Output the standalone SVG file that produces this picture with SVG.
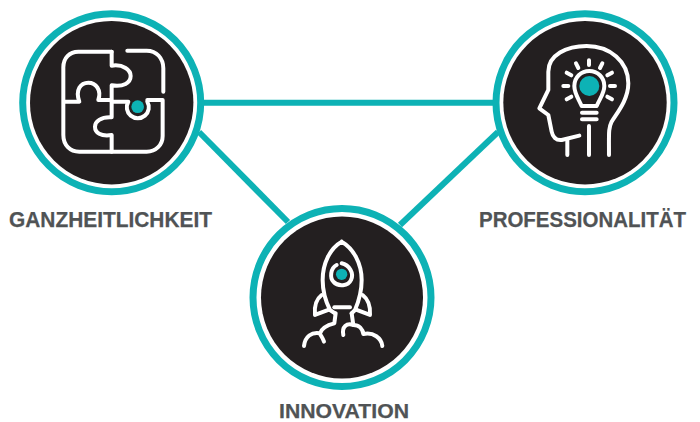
<svg xmlns="http://www.w3.org/2000/svg" width="700" height="422" viewBox="0 0 700 422">
<style>
.ring{fill:#fff;stroke:#0db2b5;stroke-width:7}
.ic{fill:none;stroke:#fff;stroke-width:12;stroke-linecap:round;stroke-linejoin:round}
.dot{fill:#0db2b5}
.lb{font-family:"Liberation Sans",Arial,sans-serif;font-weight:700;font-size:21.3px;fill:#505355;stroke:#505355;stroke-width:.25}
.cn{stroke:#0db2b5;stroke-width:6;fill:none}
</style>
<rect width="700" height="422" fill="#fff"/>
<g id="connectors">
<path class="cn" d="M198 102.7H498"/>
<path class="cn" d="M199 132L288 222"/>
<path class="cn" d="M498 132L400 225"/>
</g>
<g id="ganzheitlichkeit">
<circle class="ring" cx="111.7" cy="102.7" r="89"/>
<circle cx="111.7" cy="102.7" r="81.7" fill="#231f20"/>
<g transform="translate(10,0) scale(.3333)">
<path class="ic" d="M305 155H205C178 155 160 175 160 202V405C160 435 180 455 208 455H410C438 455 458 435 458 408V300H412"/>
<path class="ic" d="M352 152H410C440 152 460 175 460 205V275"/>
<path class="ic" d="M305 155V197C340 192 362 210 362 228C362 248 340 262 305 256V300H265C275 270 258 248 235 248C212 248 195 270 208 305H165"/>
<path class="ic" d="M305 305H355A33 33 0 1 0 412 305"/>
<path class="ic" d="M305 305V352C272 350 255 365 255 380C255 398 272 410 305 405V455"/>
<circle class="dot" cx="383" cy="320" r="19"/>
</g>
</g>
<g id="professionalitaet">
<circle class="ring" cx="585" cy="102.7" r="89"/>
<circle cx="585" cy="102.7" r="81.7" fill="#231f20"/>
<g transform="translate(480,0) scale(.3333)">
<path class="ic" d="M298 407L245 420C228 422 218 410 215 395L205 345L178 325L205 270V215C205 165 260 138 320 138C390 138 445 185 445 250C445 300 410 340 395 365C385 385 387 400 387 465"/>
<path class="ic" d="M262 420V465M327 378V465M306 338H350M306 358H350"/>
<path class="ic" d="M305 318C295 295 283 280 283 258C283 232 303 213 328 213C353 213 373 232 373 258C373 280 360 295 350 318Z"/>
<circle class="dot" cx="328" cy="258" r="30"/>
<path class="ic" d="M250 258H265M390 258H405M260 218L274 226M382 226L396 218M288 190L295 204M360 204L367 190M327 181V195M260 298L274 290M382 290L396 298"/>
</g>
</g>
<g id="innovation">
<circle class="ring" cx="342" cy="297.5" r="89"/>
<circle cx="342" cy="297.5" r="81" fill="#231f20"/>
<g transform="translate(240,210) scale(.3333)">
<path class="ic" d="M305 95C270 115 248 160 248 210C248 240 255 270 270 300L285 310M305 95C340 115 365 160 365 210C365 240 358 270 345 300L335 310"/>
<path class="ic" d="M283 292H330"/>
<path class="ic" d="M245 255C228 268 222 285 225 315L265 300M368 255C385 268 392 285 390 315L350 300"/>
<path class="ic" d="M287 310L283 340C262 345 245 355 240 370C215 365 195 380 192 408M240 372C245 380 250 388 252 395"/>
<path class="ic" d="M335 310L340 345C320 338 305 350 310 375M340 345C358 345 368 358 370 372C400 365 425 385 427 408"/>
<path class="ic" d="M290 165C270 175 270 205 280 215C295 232 325 228 333 210C343 190 328 165 305 160"/>
<circle class="dot" cx="305" cy="193" r="17"/>
</g>
</g>
<text class="lb" x="9" y="227" textLength="203" lengthAdjust="spacingAndGlyphs">GANZHEITLICHKEIT</text>
<text class="lb" x="479" y="227" textLength="207" lengthAdjust="spacingAndGlyphs">PROFESSIONALITÄT</text>
<text class="lb" x="279" y="417.5" style="font-size:20.5px" textLength="130" lengthAdjust="spacingAndGlyphs">INNOVATION</text>
</svg>
